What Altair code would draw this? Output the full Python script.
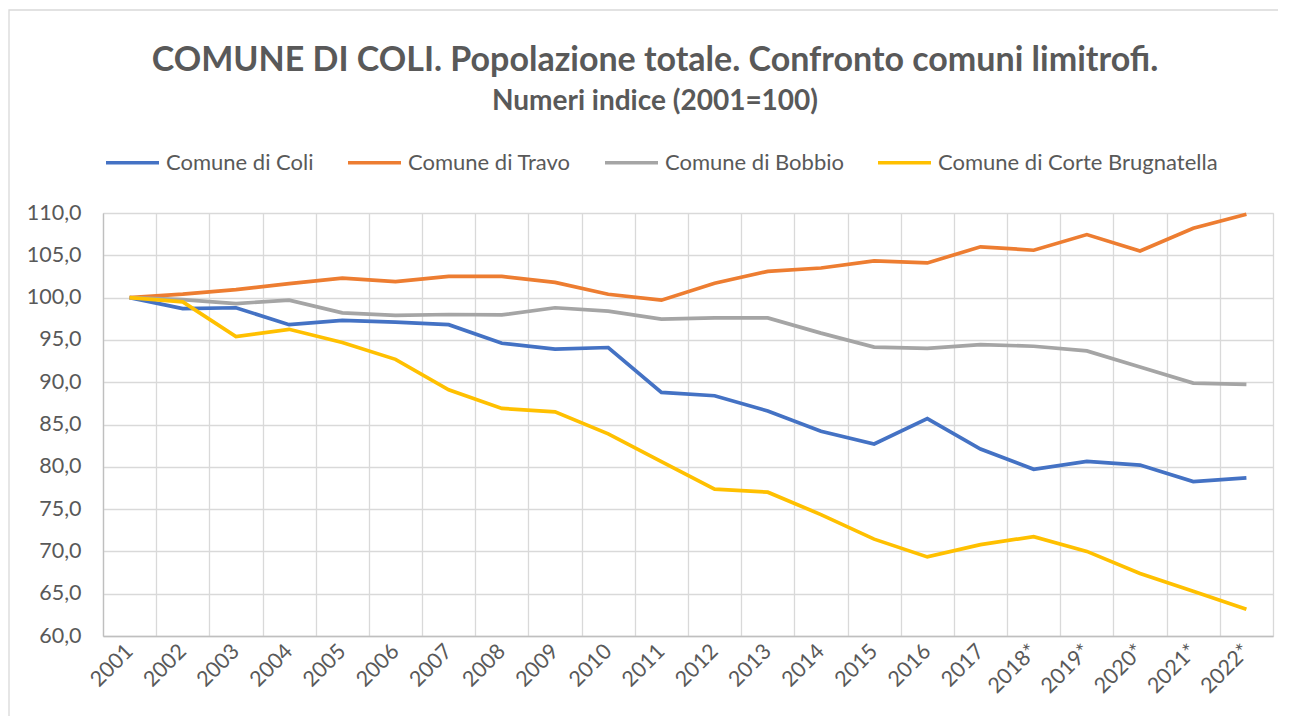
import altair as alt
import pandas as pd

years = ["2001", "2002", "2003", "2004", "2005", "2006", "2007", "2008", "2009", "2010",
         "2011", "2012", "2013", "2014", "2015", "2016", "2017", "2018*", "2019*", "2020*",
         "2021*", "2022*"]

coli = [100.0, 98.7, 98.8, 96.8, 97.3, 97.1, 96.8, 94.6, 93.9, 94.1,
        88.8, 88.4, 86.6, 84.2, 82.7, 85.7, 82.1, 79.7, 80.65, 80.2, 78.25, 78.7]
travo = [100.0, 100.4, 100.95, 101.65, 102.3, 101.9, 102.5, 102.5, 101.8, 100.4,
         99.7, 101.7, 103.1, 103.5, 104.35, 104.1, 106.0, 105.6, 107.45, 105.5, 108.2, 109.85]
bobbio = [100.0, 99.75, 99.3, 99.7, 98.2, 97.9, 98.0, 97.95, 98.8, 98.4,
          97.45, 97.6, 97.6, 95.8, 94.15, 94.0, 94.45, 94.25, 93.7, 91.8, 89.9, 89.75]
corte = [100.0, 99.5, 95.4, 96.25, 94.7, 92.7, 89.1, 86.9, 86.5, 83.9,
         80.6, 77.35, 77.0, 74.35, 71.45, 69.35, 70.8, 71.75, 70.0, 67.4, 65.3, 63.15]

series_names = ["Comune di Coli", "Comune di Travo", "Comune di Bobbio",
                "Comune di Corte Brugnatella"]
series_values = [coli, travo, bobbio, corte]
colors = ["#4472C4", "#ED7D31", "#A5A5A5", "#FFC000"]

title_text = "COMUNE DI COLI. Popolazione totale. Confronto comuni limitrofi."
subtitle_text = "Numeri indice (2001=100)"

rows = []
for name, vals in zip(series_names, series_values):
    for y, v in zip(years, vals):
        rows.append({"anno": y, "serie": name, "valore": v})
df = pd.DataFrame(rows)

FONT = "Lato"
TXT = "#595959"
LBL = 21.5

lines = alt.Chart(df).mark_line(strokeWidth=3.7).encode(
    x=alt.X("anno:O", sort=years, bandPosition=0.5,
            scale=alt.Scale(type="band", paddingInner=0, paddingOuter=0),
            axis=alt.Axis(title=None, labelAngle=-45, labelAlign="right",
                          labelBaseline="middle", labelFontSize=LBL, labelColor=TXT,
                          labelFont=FONT, ticks=False, tickBand="extent",
                          grid=True, gridColor="#D9D9D9", gridWidth=1.3,
                          domainColor="#BFBFBF", domainWidth=1.3, labelPadding=12)),
    y=alt.Y("valore:Q",
            scale=alt.Scale(domain=[60, 110], nice=False, zero=False),
            axis=alt.Axis(title=None, values=list(range(60, 111, 5)),
                          labelExpr="replace(format(datum.value, '.1f'), '.', ',')",
                          labelFontSize=LBL, labelColor=TXT, labelFont=FONT,
                          ticks=False, grid=True, gridColor="#D9D9D9", gridWidth=1.3,
                          domainColor="#BFBFBF", domainWidth=1.3, labelPadding=22)),
    color=alt.Color("serie:N", sort=series_names,
                    scale=alt.Scale(domain=series_names, range=colors),
                    legend=alt.Legend(title=None, orient="none", direction="horizontal",
                                      legendX=1, legendY=-79,
                                      symbolType="stroke", symbolSize=2809,
                                      symbolStrokeWidth=3.7, labelFontSize=22,
                                      labelFont=FONT, labelColor=TXT, labelOffset=5,
                                      labelLimit=400, columnPadding=26)),
)

border = alt.Chart(pd.DataFrame({"k": [0]})).mark_rect(
    fill=None, stroke="#D9D9D9", strokeWidth=1.3, clip=False
).encode(x=alt.value(-94), x2=alt.value(1180), y=alt.value(-203), y2=alt.value(505))

title = alt.Chart(pd.DataFrame({"t": [title_text]})).mark_text(
    font=FONT, fontSize=34, fontWeight="bold", color=TXT, align="center",
    baseline="alphabetic", clip=False
).encode(text="t:N", x=alt.value(552), y=alt.value(-142))

subtitle = alt.Chart(pd.DataFrame({"t": [subtitle_text]})).mark_text(
    font=FONT, fontSize=28, fontWeight="bold", color=TXT, align="center",
    baseline="alphabetic", clip=False
).encode(text="t:N", x=alt.value(552), y=alt.value(-103))

chart = alt.layer(border, lines, title, subtitle).properties(
    width=1170, height=423,
    padding={"left": 95, "top": 205, "right": 5, "bottom": 80},
    autosize=alt.AutoSizeParams(type="none"),
).configure_view(stroke="#D9D9D9", strokeWidth=1.3).configure(background="white")

chart.save("out.html", embed_options={"renderer": "svg", "actions": False})
